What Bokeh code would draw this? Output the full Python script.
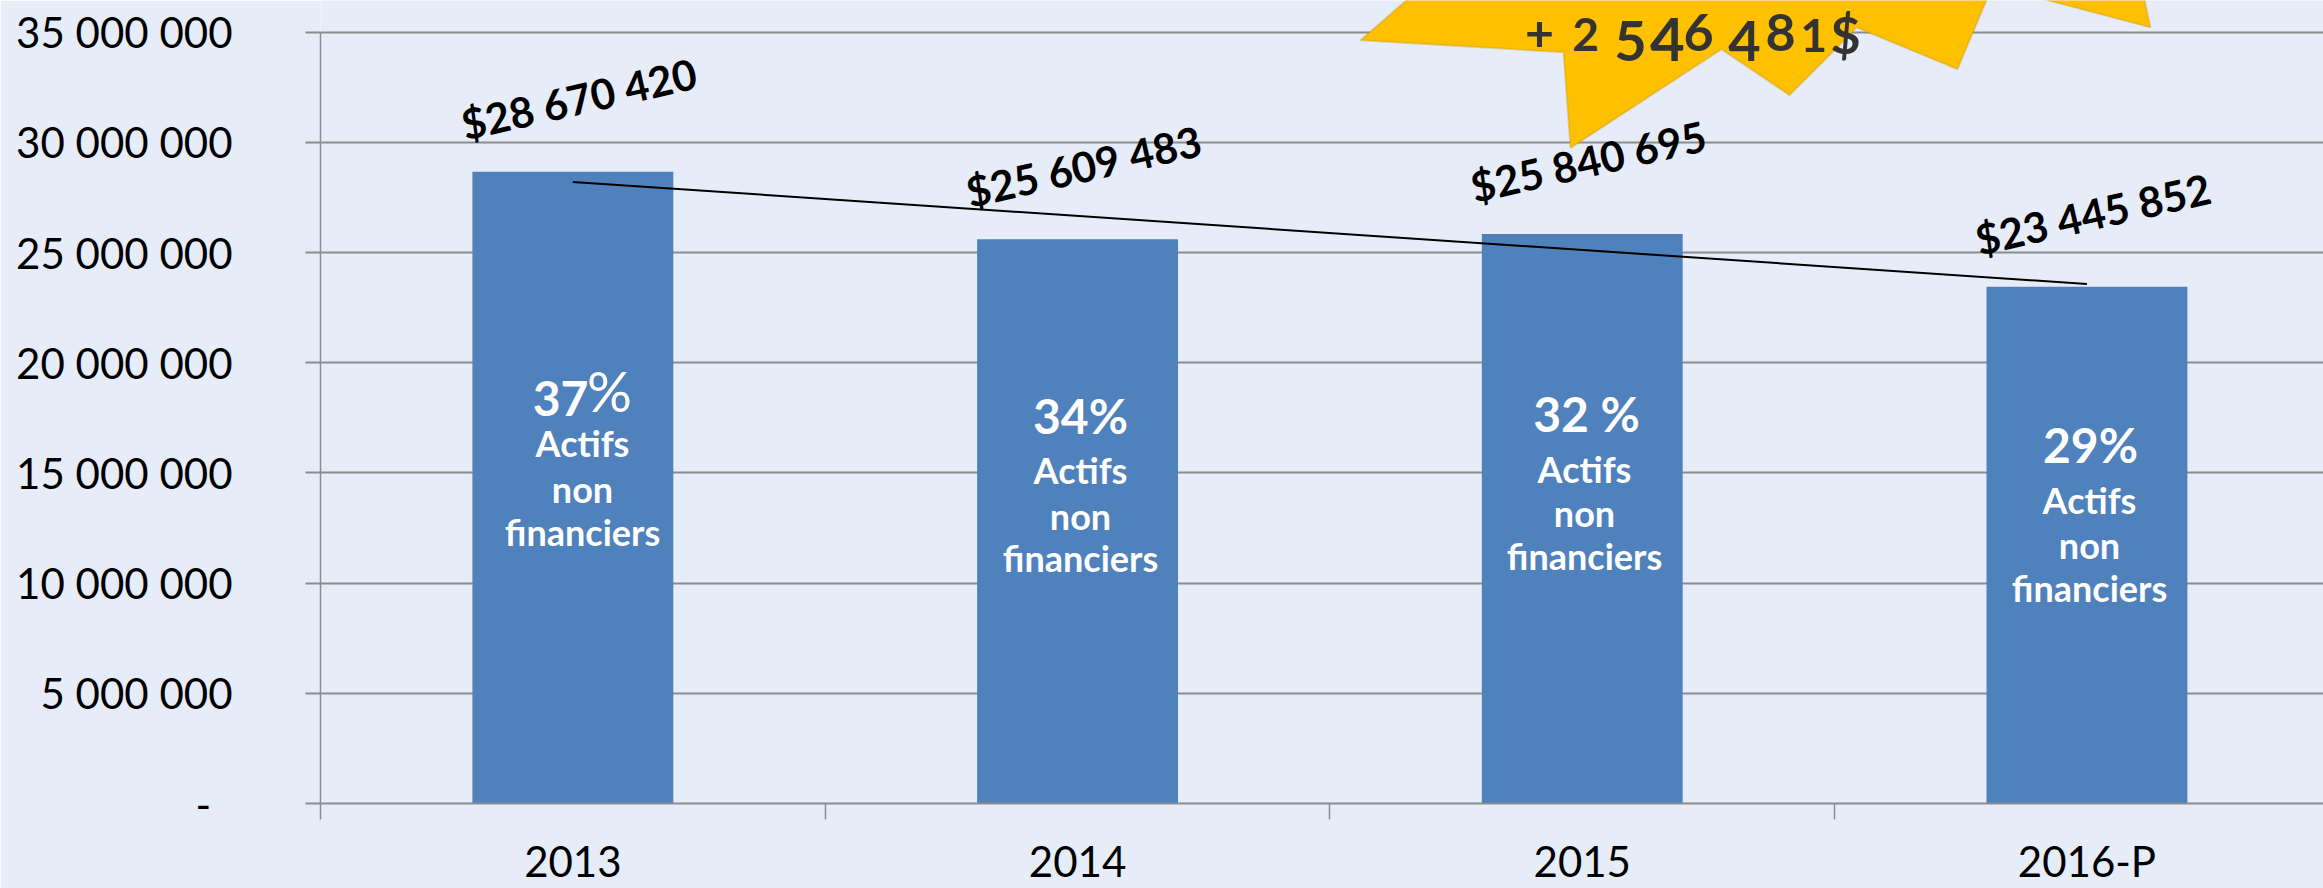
from bokeh.plotting import figure
from bokeh.embed import file_html
from bokeh.resources import INLINE
from bokeh.core.properties import value
from bokeh.models import FixedTicker, PolyAnnotation, Range1d, ColumnDataSource

# --- data ---
categories = ["2013", "2014", "2015", "2016-P"]
values = [28670420, 25609483, 25840695, 23445852]
value_labels = ["$28 670 420", "$25 609 483", "$25 840 695", "$23 445 852"]
trend_x = [0, 3]
trend_values = [28206000, 23574000]
pct_labels = ["37", "34%", "32 %", "29%"]
pct_sign = "%"
note_line1 = "Actifs"
note_line2 = "non"
note_line3 = "financiers"
y_ticks = [0, 5000000, 10000000, 15000000, 20000000, 25000000, 30000000, 35000000]
y_labels = ["-\u00a0\u00a0", "5 000 000", "10 000 000", "15 000 000", "20 000 000",
            "25 000 000", "30 000 000", "35 000 000"]
# page-pixel anchors of the free annotations
pct_x = [560, 1080, 1586, 2090]
pct_y = [399, 417, 415, 446]
note_y = [[444, 490, 533], [471, 517, 560], [470, 514, 558], [501, 547, 590]]
note_x = [582, 1080, 1584, 2089]
star_px = [(1417, -10), (1360, 40), (1563, 52), (1570, 148), (1721, 49), (1789, 95), (1834, 50), (1856, 27),
           (1957, 69), (1990, -10), (2010, -10), (2150, 27), (2142, -10)]
star_chars = ["+", "2", "5", "4", "6", "4", "8", "1", "$"]
star_char_x = [1539, 1585, 1630, 1667, 1698, 1744, 1780, 1813, 1845]
star_char_y = [33, 34, 41, 39, 32, 41, 32, 35, 34]
star_char_size = [50, 46, 56, 60, 52, 56, 52, 46, 52]

BG = "#e6ecf8"
GRID = "#8c8c8c"
FONT = "Lato"
W, H = 2323, 888
F_LEFT, F_BOTTOM, F_TOP = 320, 806, 0   # page px of frame edges
PX_PER_CAT = 504.7
PX_PER_UNIT = 110.6 / 5000000
x_end = -0.5 + (W - F_LEFT) / PX_PER_CAT
y_end = (F_BOTTOM - F_TOP) / PX_PER_UNIT


def px(x):
    return -0.5 + (x - F_LEFT) / PX_PER_CAT


def py(y):
    return (F_BOTTOM - y) / PX_PER_UNIT


p = figure(width=W, height=H, output_backend="svg", toolbar_location=None,
           x_range=Range1d(-0.5, x_end), y_range=Range1d(0, y_end),
           min_border_left=F_LEFT, min_border_right=0, min_border_top=0,
           min_border_bottom=H - F_BOTTOM)
p.background_fill_color = BG
p.border_fill_color = BG
p.outline_line_color = None

p.xgrid.visible = False
p.ygrid.ticker = FixedTicker(ticks=y_ticks)
p.ygrid.grid_line_color = GRID
p.ygrid.grid_line_width = 2

ya = p.yaxis[0]
ya.ticker = FixedTicker(ticks=y_ticks)
ya.major_label_overrides = dict(zip(y_ticks, y_labels))
ya.bounds = (0, 35000000)
ya.axis_line_color = GRID
ya.axis_line_width = 1.5
ya.major_tick_line_color = GRID
ya.major_tick_line_width = 2
ya.major_tick_in = 0
ya.major_tick_out = 15
ya.minor_tick_line_color = None
ya.major_label_standoff = 73
ya.major_label_text_font = FONT
ya.major_label_text_font_size = "42px"
ya.major_label_text_color = "#000000"

xa = p.xaxis[0]
xa.ticker = FixedTicker(ticks=[0, 1, 2, 3], minor_ticks=[-0.5, 0.5, 1.5, 2.5])
xa.major_label_overrides = dict(zip([0, 1, 2, 3], categories))
xa.axis_line_color = GRID
xa.axis_line_width = 2
xa.major_tick_line_color = None
xa.major_tick_in = 0
xa.major_tick_out = 0
xa.minor_tick_line_color = GRID
xa.minor_tick_line_width = 1.5
xa.minor_tick_in = 0
xa.minor_tick_out = 16
xa.major_label_standoff = 16
xa.major_label_text_line_height = 1.0
xa.major_label_text_font = FONT
xa.major_label_text_font_size = "42px"
xa.major_label_text_color = "#000000"

xs = list(range(len(categories)))
src = ColumnDataSource(dict(x=xs, top=values, lab=value_labels))
p.vbar(x="x", top="top", bottom=0, width=0.398, source=src, fill_color="#4f81bd", line_color=None)

p.line(trend_x, trend_values, line_color="#000000", line_width=2)

p.text(x="x", y="top", text="lab", source=src, angle=12.7, angle_units="deg",
       x_offset=6, y_offset=-73, text_align="center", text_baseline="middle",
       text_font=value(FONT), text_font_style="bold", text_font_size="42px",
       text_color="#000000", level="overlay")

star = PolyAnnotation(xs=[px(a) for a, _ in star_px], ys=[py(b) for _, b in star_px],
                      xs_units="data", ys_units="data",
                      fill_color="#ffc000", fill_alpha=1.0, line_color="#bf9000", line_width=2,
                      level="glyph")
p.add_layout(star)

p.text(x=[px(a) for a in pct_x], y=[py(b) for b in pct_y], text=pct_labels,
       text_align="center", text_baseline="middle", text_font=value(FONT),
       text_font_style="bold", text_font_size="48px", text_color="#ffffff", level="overlay")
p.text(x=[px(609)], y=[py(391)], text=[pct_sign],
       text_align="center", text_baseline="middle", text_font=value(FONT),
       text_font_size="56px", text_color="#ffffff", level="overlay")
for line_no, word in enumerate([note_line1, note_line2, note_line3]):
    p.text(x=[px(a) for a in note_x], y=[py(r[line_no]) for r in note_y], text=[word] * 4,
           text_align="center", text_baseline="middle", text_font=value(FONT),
           text_font_style="bold", text_font_size="36px", text_color="#ffffff", level="overlay")

for ch, cx, cy, cs in zip(star_chars, star_char_x, star_char_y, star_char_size):
    p.text(x=[px(cx)], y=[py(cy)], text=[ch], text_align="center", text_baseline="middle",
           text_font=value(FONT), text_font_style="bold", text_font_size=f"{cs}px",
           text_color="#333333", level="overlay")

TEMPLATE = """<!DOCTYPE html>
<html lang="en"><head><meta charset="utf-8"><title>{{ title }}</title>
{{ bokeh_css }}{{ bokeh_js }}
<style>html, body { background: #e6ecf8; margin: 0; overflow: hidden; }</style></head>
<body>{{ plot_div }}{{ plot_script }}</body></html>
"""
open("out.html", "w").write(file_html(p, INLINE, template=TEMPLATE))
